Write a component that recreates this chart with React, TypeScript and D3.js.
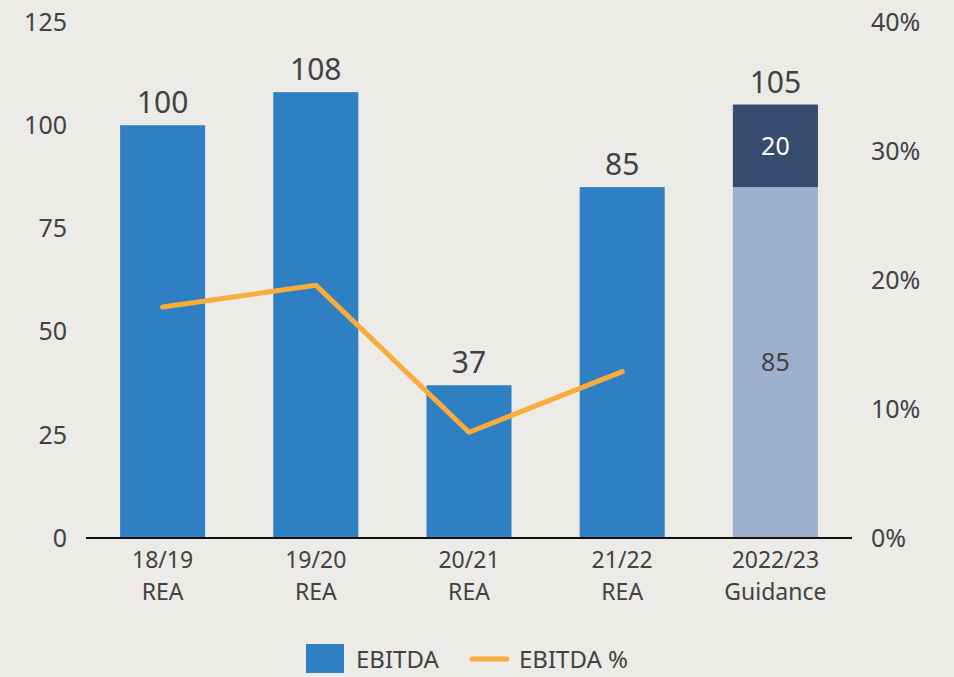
import React from "react";
import * as d3 from "d3";

const categories = [["18/19", "REA"], ["19/20", "REA"], ["20/21", "REA"], ["21/22", "REA"], ["2022/23", "Guidance"]];
const ebitda = [100, 108, 37, 85, 85];
const guidanceExtra = [0, 0, 0, 0, 20];
const totals = [100, 108, 37, 85, 105];
const ebitdaPct = [17.9, 19.6, 8.2, 12.9];
const leftTicks = [0, 25, 50, 75, 100, 125];
const rightTicks = [0, 10, 20, 30, 40];

const W = 954, H = 677;
const FONT = "'Noto Sans', Lato, sans-serif";
const TEXT = "#424242";
const BLUE = "#2F80C2";
const DARK = "#354C6E";
const LIGHT = "#9DB0CE";
const ORANGE = "#F9AC3A";

export default function App() {
  const x = d3.scaleBand<number>().domain(d3.range(categories.length)).range([86, 852]).paddingInner(0.445).paddingOuter(0.2225);
  const y = d3.scaleLinear().domain([0, 125]).range([538, 22]);
  const yr = d3.scaleLinear().domain([0, 40]).range([538, 22]);
  const line = d3.line<number>().x((_, i) => x(i)! + x.bandwidth() / 2).y((d) => yr(d));
  const bw = x.bandwidth();
  return (
    <svg width={W} height={H} style={{ position: "absolute", left: 0, top: 0, background: "#ECEBE7" }} fontFamily={FONT}>
      <rect x={0} y={0} width={W} height={H} fill="#ECEBE7" />
      {leftTicks.map((t) => (
        <text key={"l" + t} x={67} y={y(t)} dy="0.35em" textAnchor="end" fontSize={25} fill={TEXT}>{t}</text>
      ))}
      {rightTicks.map((t) => (
        <text key={"r" + t} x={871} y={yr(t)} dy="0.35em" textAnchor="start" fontSize={25} fill={TEXT}>{t}%</text>
      ))}
      {ebitda.map((v, i) => {
        const last = i === categories.length - 1;
        return (
          <rect key={"b" + i} x={x(i)} y={y(v)} width={bw} height={y(0) - y(v)} fill={last ? LIGHT : BLUE} />
        );
      })}
      {guidanceExtra.map((v, i) =>
        v > 0 ? (
          <g key={"g" + i}>
            <rect x={x(i)} y={y(ebitda[i] + v)} width={bw} height={y(ebitda[i]) - y(ebitda[i] + v)} fill={DARK} />
            <text x={x(i)! + bw / 2} y={(y(ebitda[i] + v) + y(ebitda[i])) / 2} dy="0.35em" textAnchor="middle" fontSize={25} fill="#ffffff">{v}</text>
            <text x={x(i)! + bw / 2} y={(y(0) + y(ebitda[i])) / 2} dy="0.35em" textAnchor="middle" fontSize={25} fill={TEXT}>{ebitda[i]}</text>
          </g>
        ) : null
      )}
      {totals.map((v, i) => (
        <text key={"t" + i} x={x(i)! + bw / 2} y={y(v) - 12} textAnchor="middle" fontSize={30} fill={TEXT}>{v}</text>
      ))}
      <line x1={86} x2={852} y1={538} y2={538} stroke="#111" strokeWidth={2} />
      {categories.map((c, i) => (
        <g key={"c" + i}>
          <text x={x(i)! + bw / 2} y={568} textAnchor="middle" fontSize={23} fill={TEXT}>{c[0]}</text>
          <text x={x(i)! + bw / 2} y={600} textAnchor="middle" fontSize={23} fill={TEXT}>{c[1]}</text>
        </g>
      ))}
      <path d={line(ebitdaPct) || ""} fill="none" stroke={ORANGE} strokeWidth={5} strokeLinecap="round" strokeLinejoin="round" />
      <rect x={306} y={644} width={38} height={29} fill={BLUE} />
      <text x={356} y={668} fontSize={24} fill={TEXT}>EBITDA</text>
      <line x1={472} x2={507} y1={659} y2={659} stroke={ORANGE} strokeWidth={5} strokeLinecap="round" />
      <text x={519} y={668} fontSize={24} fill={TEXT}>EBITDA %</text>
    </svg>
  );
}
